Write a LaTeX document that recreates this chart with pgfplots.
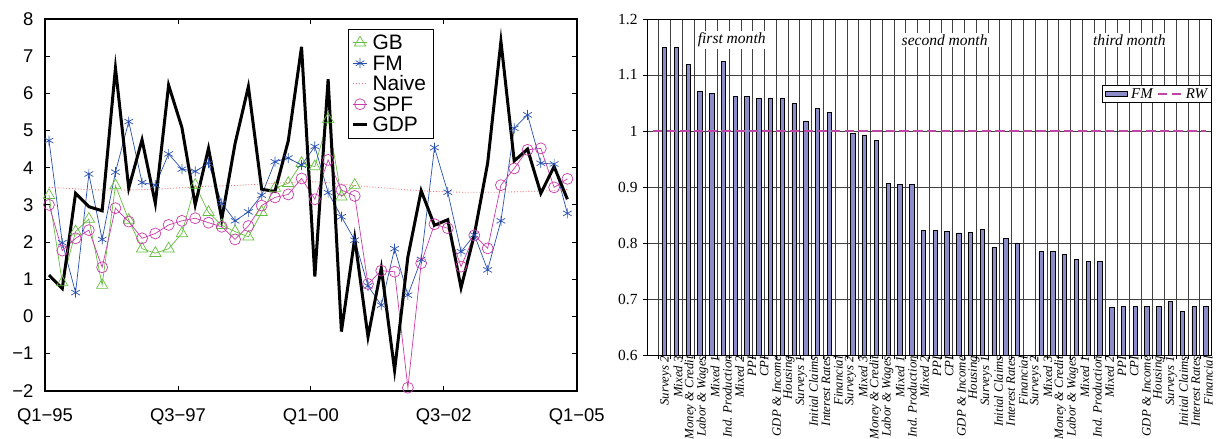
\documentclass[border=0pt]{standalone}
\usepackage{fontspec}
\setmainfont{Liberation Serif}
\newfontfamily\sansf{Liberation Sans}
\usepackage{pgfplots}
\usepackage{pgfplotstable}
\pgfplotsset{compat=1.18}
\definecolor{gbgreen}{RGB}{102,190,64}
\definecolor{fmblue}{RGB}{40,80,175}
\definecolor{spfmag}{RGB}{200,60,170}
\definecolor{naivered}{RGB}{255,110,110}
\definecolor{barcol}{RGB}{140,140,200}
\definecolor{rwmag}{RGB}{190,70,165}
\pgfplotsset{
  lineleg/.style={legend image code/.code={\draw[mark repeat=2,mark phase=2,##1] plot coordinates {(0bp,0bp) (7bp,0bp) (14bp,0bp)};}},
  rwleg/.style={legend image code/.code={\draw[##1] (0bp,0bp) -- (23bp,0bp);}},
  fmleg/.style={legend image code/.code={\draw[fill=barcol,draw=black,line width=0.7bp] (0bp,-2.5bp) rectangle (22bp,2.5bp);}},
}

\pgfplotstableread{
x gb fm naive spf gdp
0.3 3.26 4.73 3.47 3.00 1.11
1.3 0.91 1.98 3.45 1.77 0.75
2.3 2.28 0.64 3.43 2.10 3.31
3.3 2.62 3.83 3.41 2.32 2.95
4.3 0.84 2.07 3.40 1.32 2.84
5.3 3.52 3.88 3.40 2.91 6.68
6.3 2.59 5.24 3.40 2.55 3.45
7.3 1.82 3.60 3.41 2.10 4.75
8.3 1.70 3.53 3.42 2.23 3.04
9.3 1.82 4.37 3.44 2.46 6.22
10.3 2.23 3.96 3.46 2.57 5.08
11.3 3.53 3.90 3.48 2.64 3.00
12.3 2.80 4.12 3.50 2.52 4.52
13.3 2.45 3.04 3.51 2.41 2.62
14.3 2.28 2.57 3.52 2.07 4.65
15.3 2.14 2.81 3.54 2.43 6.18
16.3 2.80 3.26 3.56 2.98 3.42
17.3 3.45 4.16 3.58 3.20 3.36
18.3 3.58 4.26 3.60 3.28 4.72
19.3 4.12 4.07 3.62 3.71 7.25
20.3 4.03 4.57 3.62 3.15 1.07
21.3 5.30 3.33 3.60 4.21 6.38
22.3 3.22 2.68 3.56 3.40 -0.41
23.3 3.53 2.05 3.52 3.24 2.10
24.3 nan 0.82 3.49 0.87 -0.55
25.3 nan 0.30 3.46 1.23 1.30
26.3 nan 1.82 3.43 1.20 -1.45
27.3 nan 0.57 3.40 -1.92 1.60
28.3 nan 1.53 3.38 1.43 3.38
29.3 nan 4.54 3.36 2.48 2.45
30.3 nan 3.34 3.35 2.37 2.60
31.3 nan 1.74 3.34 1.34 0.77
32.3 nan 2.19 3.34 2.18 2.20
33.3 nan 1.25 3.34 1.83 4.12
34.3 nan 2.57 3.34 3.53 7.40
35.3 nan 5.06 3.35 3.98 4.18
36.3 nan 5.42 3.36 4.48 4.50
37.3 nan 4.12 3.37 4.52 3.31
38.3 nan 4.10 3.39 3.47 4.03
39.3 nan 2.77 3.41 3.70 3.15
}\lefttab

\pgfplotstableread{
x fm
1.5 1.149
2.5 1.149
3.5 1.119
4.5 1.071
5.5 1.067
6.5 1.124
7.5 1.062
8.5 1.062
9.5 1.058
10.5 1.059
11.5 1.059
12.5 1.049
13.5 1.018
14.5 1.040
15.5 1.033
17.5 0.995
18.5 0.993
19.5 0.983
20.5 0.907
21.5 0.904
22.5 0.905
23.5 0.823
24.5 0.823
25.5 0.821
26.5 0.818
27.5 0.819
28.5 0.824
29.5 0.792
30.5 0.808
31.5 0.800
33.5 0.785
34.5 0.785
35.5 0.780
36.5 0.770
37.5 0.767
38.5 0.767
39.5 0.685
40.5 0.687
41.5 0.687
42.5 0.687
43.5 0.687
44.5 0.696
45.5 0.678
46.5 0.686
47.5 0.686
}\righttab

\begin{document}
\begin{tikzpicture}
\useasboundingbox (0,0) rectangle (1219bp,439bp);

% ---------------- left chart ----------------
\begin{axis}[
  at={(45bp,48.3bp)}, anchor=south west,
  scale only axis, width=531.7bp, height=371.7bp,
  xmin=0, xmax=40, ymin=-2, ymax=8,
  xtick={0,10,20,30,40},
  xticklabels={Q1−95,Q3−97,Q1−00,Q3−02,Q1−05},
  ytick={-2,-1,0,1,2,3,4,5,6,7,8},
  yticklabels={−2,−1,0,1,2,3,4,5,6,7,8},
  tick align=inside, major tick length=5bp,
  axis line style={line width=1.6bp},
  every tick/.style={black, line width=0.8bp},
  ticklabel style={font=\sansf\fontsize{18.5}{18.5}\selectfont},
  xticklabel style={yshift=-14bp},
  yticklabel style={xshift=-8bp},
  legend style={at={(0.570,0.973)}, anchor=north west,
    font=\sansf\fontsize{21}{21}\selectfont,
    draw=black, line width=0.9bp, inner xsep=3bp, inner ysep=3bp,
    row sep=0bp, cells={anchor=west},
    nodes={text height=15.5bp, text depth=1bp, inner ysep=2bp, inner xsep=4bp}},
  legend cell align=left,
  lineleg,
]
\addplot[color=gbgreen, line width=0.7bp, mark=triangle, mark size=6.5bp, mark options={solid}] table[x=x,y=gb]{\lefttab};
\addlegendentry{GB}
\addplot[color=fmblue, line width=0.7bp, mark=asterisk, mark size=5bp, mark options={solid}] table[x=x,y=fm]{\lefttab};
\addlegendentry{FM}
\addplot[color=naivered, line width=0.9bp, dotted] table[x=x,y=naive]{\lefttab};
\addlegendentry{Naive}
\addplot[color=spfmag, line width=0.7bp, mark=o, mark size=5.5bp, mark options={solid}] table[x=x,y=spf]{\lefttab};
\addlegendentry{SPF}
\addplot[color=black, line width=3bp] table[x=x,y=gdp]{\lefttab};
\addlegendentry{GDP}
\end{axis}

% ---------------- right chart ----------------
\begin{axis}[
  at={(647bp,84bp)}, anchor=south west,
  scale only axis, width=564.7bp, height=336bp,
  xmin=0, xmax=48, ymin=0.6, ymax=1.2,
  ytick={0.6,0.7,0.8,0.9,1.0,1.1,1.2},
  yticklabels={0.6,0.7,0.8,0.9,1,1.1,1.2},
  xtick={1,2,...,47},
  xticklabels={},
  xmajorgrids, ymajorgrids,
  major grid style={black!75, line width=1bp},
  axis line style={black, line width=0.9bp},
  ytick pos=left, xtick pos=lower,
  every tick/.style={black, line width=0.8bp},
  tick align=outside, major tick length=4bp,
  yticklabel style={font=\fontsize{15.5}{15.5}\selectfont, xshift=-2bp},
  extra x ticks={1.33,2.378,3.426,4.474,5.522,6.57,7.618,8.666,9.714,10.762,11.81,12.858,13.906,14.954,16.002,17.05,18.098,19.146,20.194,21.242,22.29,23.338,24.386,25.434,26.482,27.53,28.578,29.626,30.674,31.722,32.77,33.818,34.866,35.914,36.962,38.01,39.058,40.106,41.154,42.202,43.25,44.298,45.346,46.394,47.442},
  extra x tick labels={Surveys 2,Mixed 3,Money \& Credit,Labor \& Wages,Mixed 1,Ind. Production,Mixed 2,PPI,CPI,GDP \& Income,Housing,Surveys 1,Initial Claims,Interest Rates,Financial,
               Surveys 2,Mixed 3,Money \& Credit,Labor \& Wages,Mixed 1,Ind. Production,Mixed 2,PPI,CPI,GDP \& Income,Housing,Surveys 1,Initial Claims,Interest Rates,Financial,
               Surveys 2,Mixed 3,Money \& Credit,Labor \& Wages,Mixed 1,Ind. Production,Mixed 2,PPI,CPI,GDP \& Income,Housing,Surveys 1,Initial Claims,Interest Rates,Financial},
  extra x tick style={major tick length=0pt, grid=none,
    xticklabel style={rotate=90, anchor=east, font=\fontsize{12.8}{12.8}\selectfont\itshape, inner sep=1bp, yshift=-3bp}},
  legend style={at={(1,0.804)}, anchor=north east,
    font=\fontsize{15}{15}\selectfont\itshape,
    draw=black, line width=1.2bp, inner xsep=2bp, inner ysep=1bp,
    legend columns=2, column sep=2bp},
]
\addplot[ybar, bar width=0.37, fill=barcol, draw=black, line width=0.7bp, fmleg]
  table[x=x,y=fm]{\righttab};
\addlegendentry{FM}
\addplot[color=rwmag, line width=2bp, dash pattern=on 9.5bp off 4.2bp, rwleg]
  coordinates {(0.5,1) (47.5,1)};
\addlegendentry{RW}
\node[fill=white, inner sep=2bp, font=\fontsize{15.6}{15.6}\selectfont\itshape] at (axis cs:7.2,1.1625) {first month};
\node[fill=white, inner sep=2bp, font=\fontsize{15.6}{15.6}\selectfont\itshape] at (axis cs:25.3,1.1625) {second month};
\node[fill=white, inner sep=2bp, font=\fontsize{15.6}{15.6}\selectfont\itshape] at (axis cs:41.0,1.1625) {third month};
\end{axis}
\end{tikzpicture}
\end{document}
